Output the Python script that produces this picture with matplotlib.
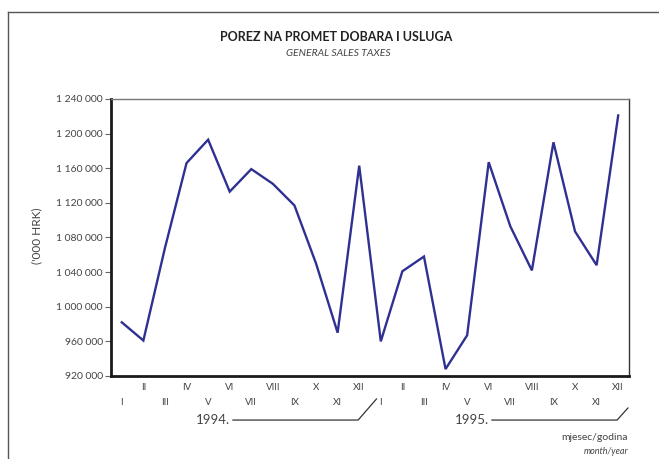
import matplotlib
matplotlib.use("Agg")
import matplotlib.pyplot as plt
from matplotlib.lines import Line2D

plt.rcParams['font.family'] = ['Lato', 'DejaVu Sans']

months = ["I", "II", "III", "IV", "V", "VI", "VII", "VIII", "IX", "X", "XI", "XII"]
years = ["1994.", "1995."]
values = [982000, 961000, 1068000, 1166000, 1193000, 1133000, 1159000, 1142000,
          1117000, 1050000, 970000, 1163000,
          960000, 1041000, 1058000, 928000, 967000, 1167000, 1093000, 1042000,
          1190000, 1087000, 1048000, 1221000]
yticks = list(range(920000, 1240001, 40000))

TXT = '#444444'
LINE = '#2e3192'

fig = plt.figure(figsize=(6.59, 4.59), dpi=100)
ax = fig.add_axes([111/659, 1-376/459, 518/659, 277/459])

x = list(range(len(values)))
ax.plot(x, values, color=LINE, lw=1.7, solid_joinstyle='miter')
ax.set_xlim(-0.5, len(values) - 0.5)
ax.set_ylim(yticks[0], yticks[-1])
ax.set_yticks(yticks)
ax.set_yticklabels([f"{v:,}".replace(",", " ") for v in yticks], fontsize=7.5, color=TXT)
ax.tick_params(axis='y', length=4, width=0.8, color='#666666', pad=2)
ax.set_xticks([])

for s in ['left', 'bottom']:
    ax.spines[s].set_linewidth(2.0)
    ax.spines[s].set_color('#1a1a1a')
ax.spines['top'].set_linewidth(1.0)
ax.spines['top'].set_color('#777777')
ax.spines['right'].set_linewidth(1.0)
ax.spines['right'].set_color('#333333')

tr = ax.get_xaxis_transform()
labels = months * len(years)
for i, lab in enumerate(labels):
    yy = -0.094 if i % 2 == 0 else -0.040
    ax.text(i, yy, lab, transform=tr, ha='center', va='center', fontsize=7, color=TXT)

# year brackets
n = len(months)
for k, yr in enumerate(years):
    start = k * n
    ax.text(start + 5.0, -0.159, yr, transform=tr, ha='right', va='center', fontsize=9.5, color=TXT)
    end_y = -0.083 if k < len(years) - 1 else -0.1155
    end_x = start + 11.8 if k < len(years) - 1 else start + 11.45
    xs = [start + 5.15, start + 10.95, end_x]
    ys = [-0.159, -0.159, end_y]
    ax.add_line(Line2D(xs, ys, transform=tr, color='#333333', lw=0.9, clip_on=False))

ax.set_ylabel("('000 HRK)", fontsize=8.5, color=TXT, labelpad=0)
ax.yaxis.set_label_coords(42/659, 1-236/459, transform=fig.transFigure)

fig.text(336/659, 1-37/459, "POREZ NA PROMET DOBARA I USLUGA", ha='center', va='center',
         fontsize=9, fontweight='bold', color='#222222')
fig.text(338/659, 1-54/459, "GENERAL SALES TAXES", ha='center', va='center',
         fontsize=7.5, style='italic', color=TXT)
fig.text(628/659, 1-438/459, "mjesec/godina", ha='right', va='center', fontsize=7.5, color=TXT)
fig.text(628/659, 1-452/459, "month/year", ha='right', va='center', fontsize=6.5, style='italic', color=TXT)

# frame lines
fig.add_artist(Line2D([8/659, 8/659], [0, 1-12/459], transform=fig.transFigure, color='#555555', lw=1.0))
fig.add_artist(Line2D([8/659, 1], [1-12/459, 1-12/459], transform=fig.transFigure, color='#555555', lw=1.0))

fig.savefig("out.png", dpi=100)
